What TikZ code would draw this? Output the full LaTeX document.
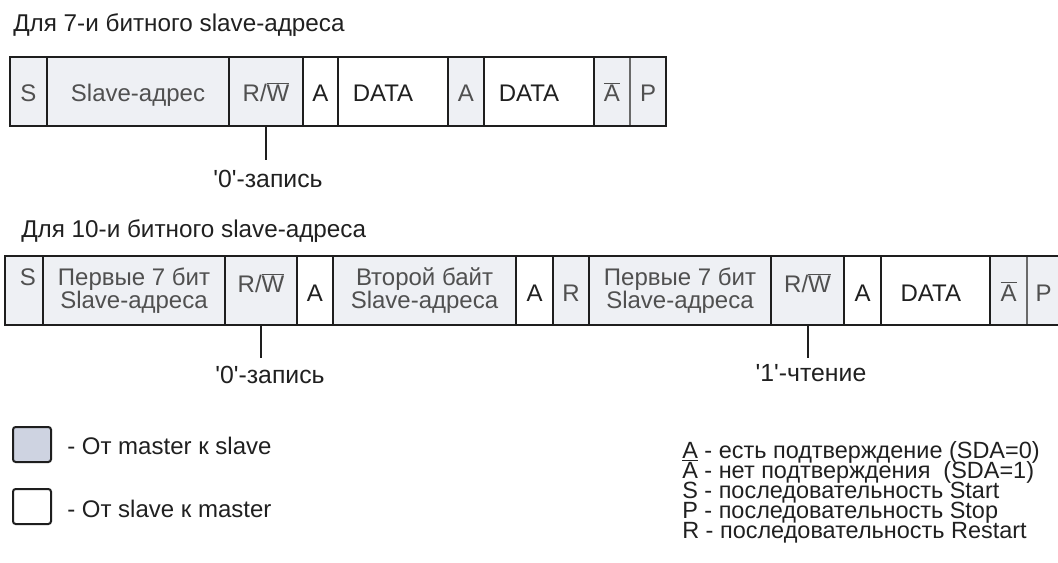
\documentclass[tikz,border=0pt]{standalone}
\usepackage{fontspec}
\setmainfont{Liberation Sans}
\definecolor{mfill}{HTML}{EEF0F4}
\definecolor{lfill}{HTML}{CED3E1}
\definecolor{edge}{HTML}{1E1E1E}
\definecolor{sepgrey}{HTML}{6A6A6A}
\definecolor{gtext}{HTML}{505050}
\definecolor{btext}{HTML}{202020}
\newcommand\boxfont{\fontsize{18pt}{17.25pt}\selectfont}
\newcommand\ttlfont{\fontsize{18.2pt}{20pt}\selectfont}
\newcommand\lblfont{\fontsize{18.6pt}{20pt}\selectfont}
\newcommand\lgfont{\fontsize{18pt}{15pt}\selectfont}
\newcommand\keyfont{\fontsize{17.6pt}{15pt}\selectfont}
\newcommand\ovl[1]{$\overline{\mbox{#1}}$}
\newcommand\fld[7]{\node[fld,#6,minimum width={(#3-#2)*0.75pt},minimum height={(#5-#4)*0.75pt}] (#1) at ({(#2+#3)/2},{(#4+#5)/2}) {#7};}
\begin{document}
\begin{tikzpicture}[x=0.75pt,y=-0.75pt,
  fld/.style={draw=edge,line width=1.5pt,inner sep=0pt,outer sep=0pt,font=\boxfont,text height=17pt,text depth=1.25pt},
  two/.style={text height=,text depth=,align=center},
  mst/.style={fill=mfill,text=gtext},
  slv/.style={fill=white,text=btext},
  ttl/.style={inner sep=0pt,font=\ttlfont,text=btext},
  lbl/.style={inner sep=0pt,font=\lblfont,text=btext},
  lg/.style={inner sep=0pt,font=\lgfont,text=btext},
  keyblock/.style={inner sep=0pt,font={\keyfont\lineskiplimit=-40pt\lineskip=0pt\relax},text=btext,align=left},
  tick/.style={draw=edge,line width=1.5pt},
  softsep/.style={draw=sepgrey,line width=1.6pt},
  sq/.style={draw=edge,line width=1.5pt,rounded corners=2pt,minimum width=28.5pt,minimum height=26.25pt,inner sep=0pt}]
\useasboundingbox (0,0) rectangle (1058,563);

\node[ttl,anchor=base west] (h1) at (13,32) {Для 7-и битного slave-адреса};

\fld{t-s}{10}{47}{57}{126}{mst}{S}
\fld{t-addr}{47}{229}{57}{126}{mst}{Slave-адрес}
\fld{t-rw}{229}{303}{57}{126}{mst}{R/\ovl{W}}
\fld{t-a1}{303}{338}{57}{126}{slv}{A}
\fld{t-d1}{338}{448}{57}{126}{slv}{DATA\hspace*{15pt}}
\fld{t-a2}{448}{484}{57}{126}{mst}{A}
\fld{t-d2}{484}{594}{57}{126}{slv}{DATA\hspace*{15pt}}
\fld{t-na}{594}{630}{57}{126}{mst}{\ovl{A}}
\fld{t-p}{630}{666}{57}{126}{mst}{P}
\draw[softsep] ([yshift=-0.75pt]t-p.north west) -- ([yshift=0.75pt]t-p.south west);

\node[lbl,anchor=base] (z1) at (268,188) {\textquotesingle0\textquotesingle-запись};
\draw[tick] (t-rw.south) -- ++(0,34);

\node[ttl,anchor=base west] (h2) at (21,238) {Для 10-и битного slave-адреса};

\fld{b-s}{5}{43}{256}{325}{mst}{\hspace*{6pt}\raisebox{12pt}{S}}
\fld{b-f7}{43}{225}{256}{325}{mst,two}{Первые 7 бит\\Slave-адреса}
\fld{b-rw}{225}{297}{256}{325}{mst}{\raisebox{6pt}{R/\ovl{W}}}
\fld{b-a1}{297}{333}{256}{325}{slv}{A}
\fld{b-2nd}{333}{516}{256}{325}{mst,two}{Второй байт\\Slave-адреса}
\fld{b-a2}{516}{553}{256}{325}{slv}{A}
\fld{b-r}{553}{589}{256}{325}{mst}{R}
\fld{b-f7b}{589}{771}{256}{325}{mst,two}{Первые 7 бит\\Slave-адреса}
\fld{b-rw2}{771}{844}{256}{325}{mst}{\raisebox{6pt}{R/\ovl{W}}}
\fld{b-a3}{844}{881}{256}{325}{slv}{A}
\fld{b-d}{881}{990}{256}{325}{slv}{DATA\hspace*{7pt}}
\fld{b-na}{990}{1027}{256}{325}{mst}{\ovl{A}}
\fld{b-p}{1027}{1060}{256}{325}{mst}{P}
\draw[softsep] ([yshift=-0.75pt]b-p.north west) -- ([yshift=0.75pt]b-p.south west);

\node[lbl,anchor=base] (z2) at (270,383) {\textquotesingle0\textquotesingle-запись};
\node[lbl,anchor=base] (z3) at (811,382) {\textquotesingle1\textquotesingle-чтение};
\draw[tick] (b-rw.south) -- ++(0,33);
\draw[tick] (b-rw2.south) -- ++(0,33);

\node[sq,fill=lfill] (sq1) at (32,444.5) {};
\node[sq,fill=white] (sq2) at (32,506.5) {};
\node[lg,anchor=base west] (lt1) at (67,455) {- От master к slave};
\node[lg,anchor=base west] (lt2) at (67,517) {- От slave к master};

\node[keyblock,anchor=base west] (keys) at (682,538) {\underline{A} - есть подтверждение (SDA=0)\\
\ovl{A} - нет подтверждения \ (SDA=1)\\
S - последовательность Start\\
P - последовательность Stop\\
R - последовательность Restart};
\end{tikzpicture}
\end{document}
